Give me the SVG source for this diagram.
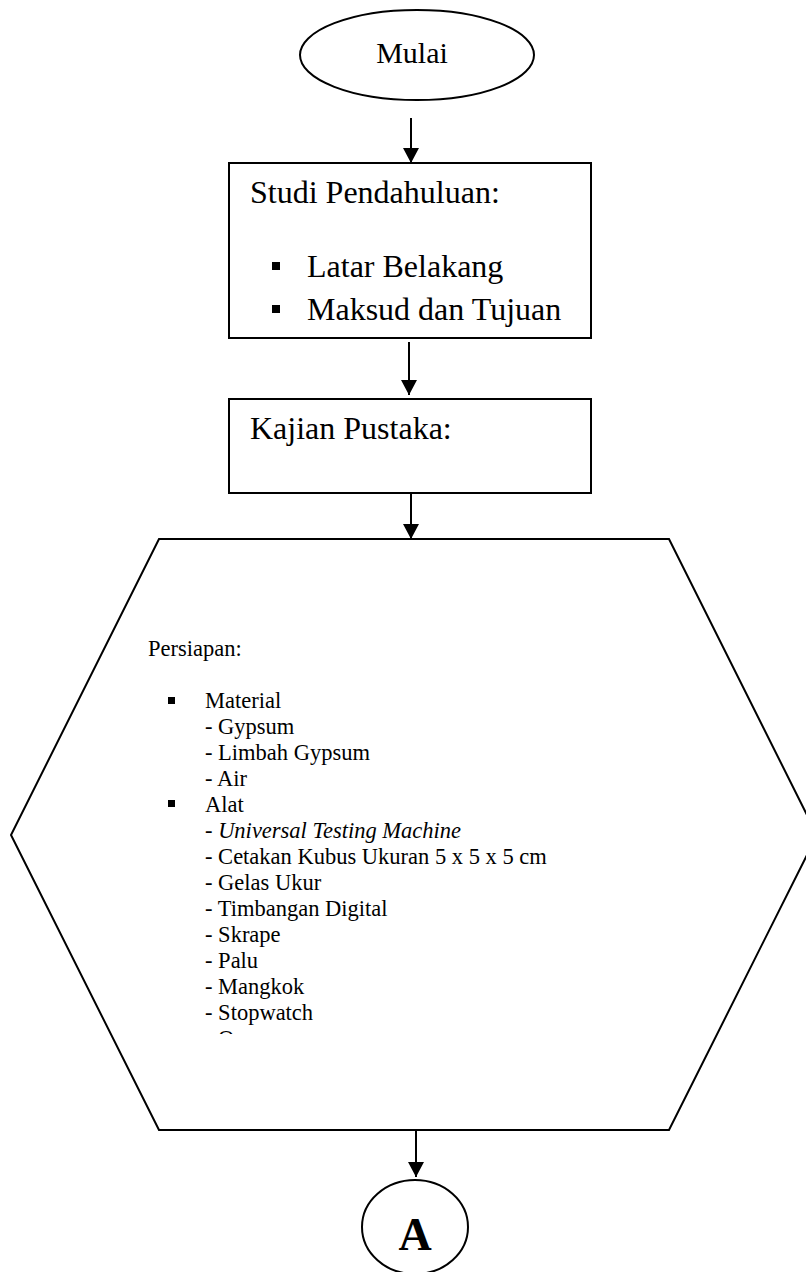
<svg xmlns="http://www.w3.org/2000/svg" width="806" height="1272" viewBox="0 0 806 1272">
<style>
.shape{fill:#fff;stroke:#000;stroke-width:2}
.line{stroke:#000;stroke-width:2;fill:none;marker-end:url(#arr)}
.t{font-family:"Liberation Serif","Times New Roman",serif;fill:#000}
.big{font-size:32px}
.sm{font-size:22.5px}
</style>
<defs>
<marker id="arr" markerWidth="15" markerHeight="16" refX="15" refY="8" orient="auto" markerUnits="userSpaceOnUse" viewBox="0 0 15 16">
<path d="M0,0 L15,8 L0,16 Z" fill="#000"/>
</marker>
<clipPath id="clipList"><rect x="0" y="600" width="806" height="434"/></clipPath>
</defs>
<rect width="806" height="1272" fill="#fff"/>
<g id="connectors">
<line class="line" x1="411" y1="118" x2="411" y2="163"/>
<line class="line" x1="409" y1="342" x2="409" y2="395"/>
<line class="line" x1="411" y1="493" x2="411" y2="539"/>
<line class="line" x1="416" y1="1130" x2="416" y2="1177"/>
</g>
<g id="mulai">
<ellipse class="shape" cx="417" cy="55" rx="117" ry="45"/>
<text class="t" x="412" y="63" font-size="30" text-anchor="middle">Mulai</text>
</g>
<g id="studi">
<rect class="shape" x="229" y="163" width="362" height="175"/>
<text class="t big" x="250" y="203">Studi Pendahuluan:</text>
<rect x="272" y="262" width="8" height="8"/>
<text class="t big" x="307" y="277">Latar Belakang</text>
<rect x="272" y="305" width="8" height="8"/>
<text class="t big" x="307" y="320">Maksud dan Tujuan</text>
</g>
<g id="kajian">
<rect class="shape" x="229" y="399" width="362" height="94"/>
<text class="t big" x="250" y="439">Kajian Pustaka:</text>
</g>
<g id="persiapan">
<polygon class="shape" points="159,539 669,539 817,835 669,1130 159,1130 11,835"/>
<text class="t sm" x="148" y="656">Persiapan:</text>
<rect x="168" y="697" width="7" height="7"/>
<rect x="168" y="800" width="7" height="7"/>
<g clip-path="url(#clipList)">
<text class="t sm" x="205" y="708">Material</text>
<text class="t sm" x="205" y="734">- Gypsum</text>
<text class="t sm" x="205" y="760">- Limbah Gypsum</text>
<text class="t sm" x="205" y="786">- Air</text>
<text class="t sm" x="205" y="812">Alat</text>
<text class="t sm" x="205" y="838">- <tspan font-style="italic">Universal Testing Machine</tspan></text>
<text class="t sm" x="205" y="864">- Cetakan Kubus Ukuran 5 x 5 x 5 cm</text>
<text class="t sm" x="205" y="890">- Gelas Ukur</text>
<text class="t sm" x="205" y="916">- Timbangan Digital</text>
<text class="t sm" x="205" y="942">- Skrape</text>
<text class="t sm" x="205" y="968">- Palu</text>
<text class="t sm" x="205" y="994">- Mangkok</text>
<text class="t sm" x="205" y="1020">- Stopwatch</text>
<text class="t sm" x="205" y="1046">- O</text>
</g>
</g>
<g id="a">
<ellipse class="shape" cx="415" cy="1227" rx="53" ry="47"/>
<text class="t" x="415" y="1250" font-size="46" font-weight="bold" text-anchor="middle">A</text>
</g>
</svg>
